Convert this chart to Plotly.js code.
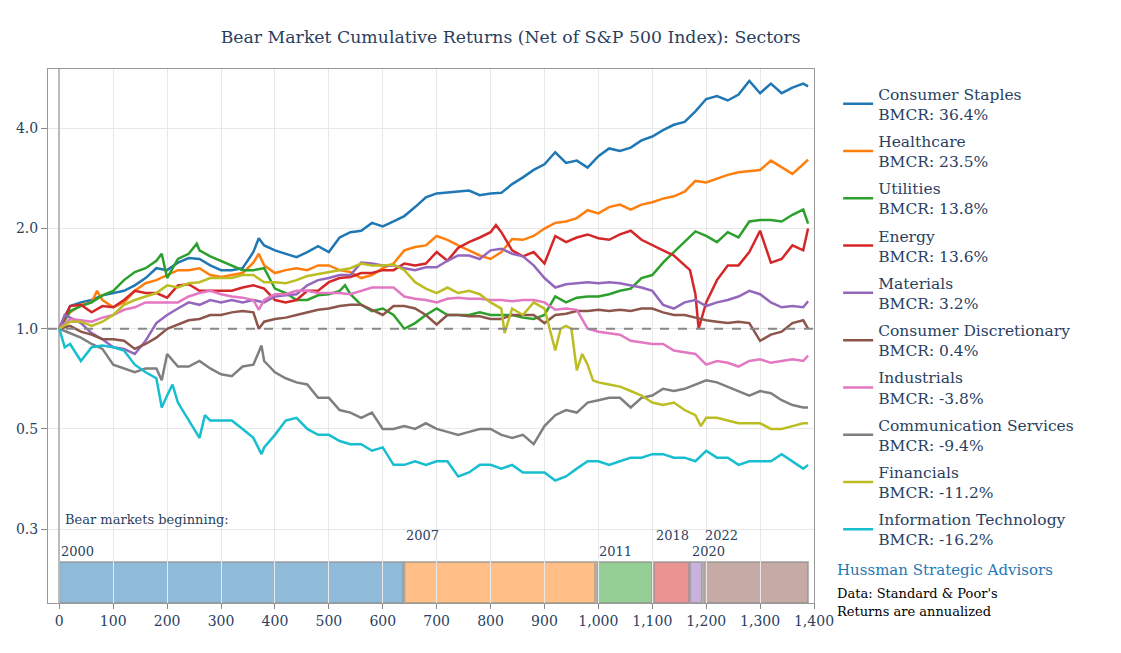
<!DOCTYPE html>
<html>
<head>
<meta charset="utf-8">
<script src="https://cdn.plot.ly/plotly-3.0.1.min.js"></script>
<style>
html,body{margin:0;padding:0;background:#fff;}
#chart{width:1121px;height:653px;}
</style>
</head>
<body>
<div id="chart"></div>
<script>
// ---------------- DATA ----------------
const sectorNames = ["Consumer Staples","Healthcare","Utilities","Energy","Materials",
  "Consumer Discretionary","Industrials","Communication Services","Financials","Information Technology"];
const bmcr = ["36.4%","23.5%","13.8%","13.6%","3.2%","0.4%","-3.8%","-9.4%","-11.2%","-16.2%"];

const staplesDays = [0,20,40,60,80,100,120,140,160,180,
  200,220,240,260,280,300,320,340,360,370,
  380,400,420,440,460,480,500,520,540,560,
  580,600,620,640,660,680,700,720,740,760,
  780,800,820,840,860,880,900,920,940,960,
  980,1000,1020,1040,1060,1080,1100,1120,1140,1160,
  1180,1200,1220,1240,1260,1280,1300,1320,1340,1360,
  1380,1389];
const staplesVals = [1.0,1.17,1.2,1.22,1.26,1.28,1.3,1.35,1.42,1.52,
  1.5,1.58,1.63,1.62,1.55,1.5,1.5,1.52,1.7,1.87,
  1.78,1.72,1.68,1.64,1.7,1.77,1.7,1.88,1.95,1.97,
  2.08,2.03,2.1,2.18,2.32,2.48,2.55,2.57,2.58,2.6,
  2.52,2.55,2.56,2.72,2.85,3.0,3.12,3.39,3.15,3.2,
  3.05,3.3,3.48,3.42,3.5,3.68,3.78,3.95,4.1,4.18,
  4.5,4.9,5.0,4.85,5.05,5.55,5.1,5.45,5.1,5.3,
  5.45,5.35];

const healthDays = [0,20,40,60,70,80,100,120,140,160,
  180,200,220,240,260,280,300,320,340,360,
  370,380,400,420,440,460,480,500,520,540,
  560,580,600,620,640,660,680,700,720,740,
  760,780,800,820,840,860,880,900,920,940,
  960,980,1000,1020,1040,1060,1080,1100,1120,1140,
  1160,1180,1200,1220,1240,1260,1280,1300,1320,1340,
  1360,1380,1389];
const healthVals = [1.0,1.12,1.18,1.2,1.3,1.22,1.16,1.2,1.3,1.37,
  1.4,1.45,1.5,1.5,1.52,1.45,1.43,1.45,1.47,1.58,
  1.68,1.55,1.47,1.5,1.52,1.5,1.55,1.55,1.5,1.48,
  1.42,1.45,1.52,1.57,1.72,1.76,1.78,1.9,1.85,1.78,
  1.72,1.66,1.62,1.7,1.86,1.85,1.9,2.0,2.08,2.1,
  2.15,2.27,2.22,2.32,2.36,2.28,2.36,2.4,2.46,2.5,
  2.58,2.78,2.75,2.82,2.9,2.95,2.98,3.0,3.2,3.05,
  2.92,3.12,3.22];

const utilDays = [0,20,40,60,80,100,120,140,160,180,
  190,200,220,240,255,260,280,300,320,340,
  360,380,400,420,440,460,480,500,520,530,
  540,560,580,600,620,640,660,680,700,720,
  740,760,780,800,820,840,860,880,900,920,
  940,960,980,1000,1020,1040,1060,1080,1100,1120,
  1140,1160,1180,1200,1220,1240,1260,1280,1300,1320,
  1340,1360,1380,1389];
const utilVals = [1.0,1.13,1.17,1.2,1.26,1.3,1.4,1.48,1.52,1.6,
  1.68,1.42,1.62,1.68,1.8,1.72,1.65,1.6,1.55,1.5,
  1.5,1.52,1.32,1.28,1.22,1.22,1.26,1.27,1.3,1.35,
  1.27,1.18,1.13,1.15,1.1,1.0,1.04,1.1,1.15,1.1,
  1.1,1.1,1.12,1.1,1.1,1.1,1.08,1.07,1.1,1.25,
  1.2,1.24,1.25,1.25,1.27,1.3,1.32,1.42,1.45,1.58,
  1.7,1.82,1.96,1.9,1.82,1.95,1.88,2.1,2.12,2.12,
  2.1,2.2,2.28,2.07];

const energyDays = [0,20,40,60,80,100,120,140,160,180,
  200,220,240,260,280,300,320,340,360,380,
  400,420,440,460,480,500,520,540,560,580,
  600,620,640,660,680,700,720,740,760,780,
  800,810,820,840,860,880,900,920,940,960,
  980,1000,1020,1040,1060,1080,1100,1120,1140,1160,
  1170,1180,1186,1200,1220,1240,1260,1280,1300,1320,
  1340,1360,1380,1389];
const energyVals = [1.0,1.17,1.18,1.12,1.17,1.16,1.22,1.3,1.28,1.28,
  1.24,1.35,1.36,1.3,1.3,1.3,1.3,1.33,1.35,1.32,
  1.22,1.2,1.22,1.3,1.3,1.38,1.42,1.43,1.47,1.47,
  1.5,1.5,1.57,1.55,1.57,1.7,1.6,1.75,1.82,1.88,
  1.95,2.05,1.95,1.72,1.65,1.7,1.57,1.9,1.82,1.88,
  1.92,1.87,1.85,1.92,1.97,1.85,1.78,1.72,1.66,1.55,
  1.5,1.27,1.0,1.2,1.4,1.55,1.55,1.7,1.97,1.58,
  1.62,1.78,1.72,2.0];

const matDays = [0,10,20,40,60,80,100,120,140,160,
  180,200,220,240,260,280,300,320,340,360,
  380,400,420,440,460,480,500,520,540,560,
  580,600,620,640,660,680,700,720,740,760,
  780,800,820,840,860,880,900,920,940,960,
  980,1000,1020,1040,1060,1080,1100,1120,1140,1160,
  1180,1200,1220,1240,1260,1280,1300,1320,1340,1360,
  1380,1389];
const matVals = [1.0,1.1,1.08,1.04,0.97,0.93,0.88,0.87,0.84,0.92,
  1.04,1.1,1.15,1.2,1.18,1.22,1.2,1.22,1.2,1.22,
  1.2,1.25,1.26,1.27,1.35,1.4,1.42,1.45,1.45,1.58,
  1.57,1.55,1.55,1.52,1.5,1.53,1.53,1.6,1.66,1.66,
  1.62,1.72,1.74,1.68,1.65,1.55,1.42,1.33,1.36,1.37,
  1.38,1.37,1.38,1.37,1.35,1.33,1.3,1.18,1.15,1.2,
  1.22,1.17,1.2,1.22,1.25,1.3,1.27,1.2,1.16,1.17,
  1.16,1.21];

const discDays = [0,20,40,60,80,100,120,140,160,180,
  200,220,240,260,280,300,320,340,360,370,
  380,400,420,440,460,480,500,520,540,560,
  580,600,620,640,660,680,700,720,740,760,
  780,800,820,840,860,880,900,920,940,960,
  980,1000,1020,1040,1060,1080,1100,1120,1140,1160,
  1180,1200,1220,1240,1260,1280,1300,1320,1340,1360,
  1380,1389];
const discVals = [1.0,1.02,0.98,0.96,0.93,0.93,0.92,0.87,0.9,0.94,
  1.0,1.03,1.06,1.07,1.1,1.1,1.12,1.13,1.12,1.0,
  1.05,1.07,1.08,1.1,1.12,1.14,1.15,1.17,1.18,1.18,
  1.14,1.1,1.17,1.17,1.15,1.1,1.03,1.1,1.1,1.09,
  1.09,1.07,1.07,1.1,1.1,1.1,1.04,1.1,1.11,1.13,
  1.13,1.14,1.13,1.14,1.13,1.15,1.15,1.12,1.1,1.1,
  1.08,1.06,1.05,1.04,1.05,1.04,0.92,0.96,0.98,1.04,
  1.06,1.0];

const indDays = [0,20,40,60,80,100,120,140,160,180,
  200,220,240,260,280,300,320,340,360,370,
  380,400,420,440,460,480,500,520,540,560,
  580,600,620,640,660,680,700,720,740,760,
  780,800,820,840,860,880,900,920,940,960,
  980,1000,1020,1040,1060,1080,1100,1120,1140,1160,
  1180,1200,1220,1240,1260,1280,1300,1320,1340,1360,
  1380,1389];
const indVals = [1.0,1.07,1.06,1.05,1.08,1.1,1.14,1.16,1.2,1.2,
  1.2,1.2,1.25,1.28,1.3,1.27,1.25,1.24,1.22,1.14,
  1.22,1.27,1.27,1.3,1.3,1.28,1.28,1.28,1.27,1.3,
  1.33,1.33,1.33,1.25,1.23,1.22,1.2,1.23,1.24,1.23,
  1.23,1.22,1.22,1.21,1.22,1.22,1.2,1.14,1.15,1.14,
  1.0,0.98,0.97,0.96,0.92,0.91,0.9,0.9,0.86,0.85,
  0.84,0.78,0.8,0.79,0.77,0.8,0.81,0.79,0.8,0.81,
  0.8,0.83];

const commDays = [0,20,40,60,80,100,120,140,160,180,
  190,200,220,240,260,280,300,320,340,360,
  375,380,400,420,440,460,480,500,520,540,
  560,580,600,620,640,660,680,700,720,740,
  760,780,800,820,840,860,880,900,920,940,
  960,980,1000,1020,1040,1060,1080,1100,1120,1140,
  1160,1180,1200,1220,1240,1260,1280,1300,1320,1340,
  1360,1380,1389];
const commVals = [1.0,0.97,0.94,0.9,0.87,0.78,0.76,0.74,0.76,0.76,
  0.7,0.84,0.77,0.77,0.8,0.76,0.73,0.72,0.77,0.78,
  0.89,0.8,0.74,0.71,0.69,0.68,0.62,0.62,0.57,0.56,
  0.54,0.56,0.5,0.5,0.51,0.5,0.52,0.5,0.49,0.48,
  0.49,0.5,0.5,0.48,0.47,0.48,0.45,0.51,0.55,0.57,
  0.56,0.6,0.61,0.62,0.62,0.58,0.62,0.63,0.66,0.65,
  0.66,0.68,0.7,0.69,0.67,0.65,0.63,0.65,0.64,0.61,
  0.59,0.58,0.58];

const finDays = [0,20,40,60,80,100,120,140,160,180,
  200,220,240,260,280,300,320,340,360,380,
  400,420,440,460,480,500,520,540,560,580,
  600,620,640,660,680,700,720,740,760,780,
  800,820,826,840,860,880,900,920,930,940,
  950,960,970,980,990,1000,1020,1040,1060,1080,
  1100,1120,1140,1160,1180,1190,1200,1220,1240,1260,
  1280,1300,1320,1340,1360,1380,1389];
const finVals = [1.0,1.05,1.05,1.02,1.05,1.1,1.18,1.22,1.25,1.28,
  1.35,1.33,1.37,1.38,1.42,1.42,1.42,1.45,1.45,1.38,
  1.38,1.37,1.4,1.44,1.46,1.48,1.5,1.52,1.57,1.55,
  1.55,1.56,1.5,1.38,1.32,1.28,1.33,1.28,1.3,1.27,
  1.2,1.15,0.97,1.15,1.1,1.2,1.15,0.86,1.0,1.02,
  1.0,0.75,0.84,0.78,0.7,0.69,0.68,0.67,0.65,0.63,
  0.6,0.59,0.6,0.57,0.55,0.51,0.54,0.54,0.53,0.52,
  0.52,0.52,0.5,0.5,0.51,0.52,0.52];

const techDays = [0,10,20,40,60,80,100,120,140,160,
  180,190,200,210,220,240,260,270,280,300,
  320,340,360,375,380,400,420,440,460,480,
  500,520,540,560,580,600,620,640,660,680,
  700,720,740,760,780,800,820,840,860,880,
  900,920,940,960,980,1000,1020,1040,1060,1080,
  1100,1120,1140,1160,1180,1200,1220,1240,1260,1280,
  1300,1320,1340,1360,1380,1389];
const techVals = [1.0,0.88,0.9,0.8,0.88,0.89,0.88,0.86,0.78,0.74,
  0.71,0.58,0.63,0.68,0.6,0.53,0.47,0.55,0.53,0.53,
  0.53,0.5,0.47,0.42,0.44,0.48,0.53,0.54,0.5,0.48,
  0.48,0.46,0.45,0.45,0.43,0.44,0.39,0.39,0.4,0.39,
  0.4,0.4,0.36,0.37,0.39,0.39,0.38,0.39,0.37,0.37,
  0.37,0.35,0.36,0.38,0.4,0.4,0.39,0.4,0.41,0.41,
  0.42,0.42,0.41,0.41,0.4,0.43,0.41,0.41,0.39,0.4,
  0.4,0.4,0.42,0.4,0.38,0.39];

// Bear market periods (day index)
const bearLabels = ["2000","2007","2011","2018","2020","2022"];
const bearStart = [0,640,997,1103,1170,1195];
const bearEnd   = [638,994,1100,1168,1192,1389];

const yTicks = [0.25,0.5,1,2,4];
const xTicks = [0,100,200,300,400,500,600,700,800,900,1000,1100,1200,1300,1400];

// ---------------- STYLE ----------------
const colors = ["#1f77b4","#ff7f0e","#2ca02c","#d62728","#9467bd",
  "#8c564b","#e377c2","#7f7f7f","#bcbd22","#17becf"];
const barFill = ["rgba(31,119,180,0.5)","rgba(255,127,14,0.5)","rgba(44,160,44,0.5)",
  "rgba(214,39,40,0.5)","rgba(148,103,189,0.5)","rgba(140,86,75,0.5)"];
const FONT = "Rockwell, 'DejaVu Serif', serif";
const INK = "#2a3f5f";

const seriesX = [staplesDays,healthDays,utilDays,energyDays,matDays,discDays,indDays,commDays,finDays,techDays];
const seriesY = [staplesVals,healthVals,utilVals,energyVals,matVals,discVals,indVals,commVals,finVals,techVals];

const traces = sectorNames.map((n,i)=>({
  type:"scatter", mode:"lines",
  x: seriesX[i], y: seriesY[i],
  name: n + "<br>BMCR: " + bmcr[i],
  legendgroup: "g" + i,
  line:{color:colors[i], width:2.5}
}));

const shapes = [];
bearStart.forEach((s,i)=>{
  shapes.push({type:"rect", xref:"x", yref:"paper", x0:s, x1:bearEnd[i], y0:0, y1:0.077,
    fillcolor:barFill[i], line:{color:"rgba(140,140,140,0.6)", width:2}, layer:"below"});
});
shapes.push({type:"line", xref:"paper", yref:"y", x0:0, x1:1, y0:1, y1:1,
  line:{color:"#888", width:2, dash:"dash"}});

const annotations = [
  {text:"Bear markets beginning:", xref:"paper", yref:"paper", x:0.02, y:0.157,
   xanchor:"left", yanchor:"middle", showarrow:false, font:{family:FONT,size:13,color:INK}}
];
bearLabels.forEach((lab,i)=>{
  annotations.push({text:lab, xref:"x", yref:"paper", x:bearStart[i], y:(i%2===0)?0.097:0.127,
    xanchor:"left", yanchor:"middle", showarrow:false, font:{family:FONT,size:13,color:INK}});
});
annotations.push({text:"Hussman Strategic Advisors", xref:"paper", yref:"paper", x:1.028, y:0.0618,
  xanchor:"left", yanchor:"middle", showarrow:false, font:{family:FONT,size:15,color:"#1f77b4"}});
annotations.push({text:"Data: Standard &amp; Poor's", xref:"paper", yref:"paper", x:1.028, y:0.0187,
  xanchor:"left", yanchor:"middle", showarrow:false, font:{family:FONT,size:13,color:"#000"}});
annotations.push({text:"Returns are annualized", xref:"paper", yref:"paper", x:1.028, y:-0.015,
  xanchor:"left", yanchor:"middle", showarrow:false, font:{family:FONT,size:13,color:"#000"}});

const layout = {
  width:1121, height:653,
  margin:{l:48, r:307, t:69, b:50},
  paper_bgcolor:"#fff", plot_bgcolor:"#fff",
  font:{family:FONT, size:14, color:INK},
  title:{text:"Bear Market Cumulative Returns (Net of S&amp;P 500 Index): Sectors",
    x:0.604, xref:"paper", xanchor:"center", y:0.943, yanchor:"middle",
    font:{family:FONT, size:17.3, color:INK}},
  xaxis:{range:[-21,1400], tickvals:xTicks, tickformat:",d",
    showgrid:true, gridcolor:"#e8e8e8", gridwidth:1,
    zeroline:true, zerolinecolor:"#bbb", zerolinewidth:2,
    showline:true, linecolor:"#999", linewidth:1, mirror:true,
    ticks:"outside", ticklen:5, tickcolor:"#888",
    tickfont:{family:FONT, size:14, color:INK}},
  yaxis:{type:"log", range:[Math.log10(0.15), Math.log10(6.03)],
    tickvals:yTicks, tickformat:".1f",
    showgrid:true, gridcolor:"#e8e8e8", gridwidth:1,
    showline:true, linecolor:"#999", linewidth:1, mirror:true,
    ticks:"outside", ticklen:6, tickcolor:"#888",
    tickfont:{family:FONT, size:14, color:INK}},
  legend:{x:1.0315, y:0.985, xanchor:"left", yanchor:"top",
    traceorder:"grouped", tracegroupgap:4,
    font:{family:FONT, size:15.5, color:INK}, bgcolor:"rgba(0,0,0,0)"},
  shapes:shapes,
  annotations:annotations,
  showlegend:true
};

Plotly.newPlot("chart", traces, layout, {displayModeBar:false, staticPlot:true});
</script>
</body>
</html>
